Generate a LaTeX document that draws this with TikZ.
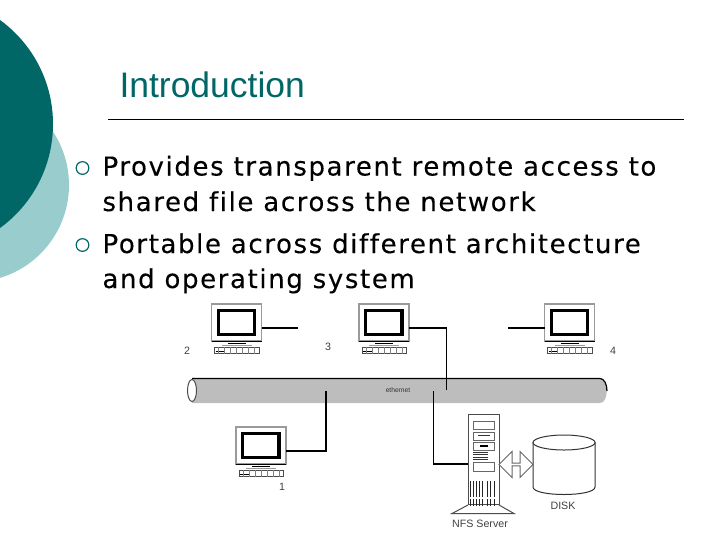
\documentclass[tikz,border=0pt]{standalone}
\usepackage{fontspec}
\setmainfont{DejaVu Sans}
\newfontfamily\bodyfont[LetterSpace=6.2,FakeBold=0.25,Ligatures=NoCommon]{DejaVu Sans}
\newfontfamily\labelfont{Liberation Sans}
\usetikzlibrary{shapes.arrows}

\definecolor{tealdark}{HTML}{006666}
\definecolor{teallight}{HTML}{99CCCC}
\definecolor{cablegray}{HTML}{BDBDBD}
\definecolor{framegray}{HTML}{9A9A9A}

\tikzset{every picture/.style={line width=0.75pt}}
\tikzset{
	wire/.style={line width=1pt,black},
	bodytext/.style={anchor=base west,inner sep=0pt,font=\bodyfont\fontsize{19.5}{24}\selectfont},
	smalltext/.style={inner sep=0pt,text=black!75,font=\labelfont\fontsize{8}{10}\selectfont},
	ringmark/.style={circle,draw=tealdark,line width=0.9pt,minimum size=9.5pt,inner sep=0pt},
	monitorbox/.style={rectangle,draw=framegray,line width=1pt,fill=white,minimum width=37.5pt,minimum height=27.75pt,inner sep=0pt},
	computer/.pic={
		\node [monitorbox] (-frame) at (25,18.5) {};
		\coordinate (-porta) at (50,24);
		\coordinate (-portb) at (0,24);
		\draw [line width=2.5pt,black] (6.8,6.6) rectangle (42.9,30.4);
		\draw [black,line width=1pt] (0,37.5) -- (50,37.5);
		\draw [framegray] (10,41) -- (40,41);
		\draw [black] (16,39.5) -- (34,39.5);
		\draw [fill=white,draw=black!70] (3,43) rectangle (47.5,49.5);
		\draw [black,line width=1.4pt] (4,47.5) -- (13,47.5);
		\foreach \k in {7,13,...,46} {\draw [black!50] (\k,43) -- (\k,49.5);}
	}
}

\begin{document}
\begin{tikzpicture}[x=0.75pt,y=0.75pt,yscale=-1,xscale=1,every pic/.style={yscale=-1}]
	\useasboundingbox (0,0) rectangle (720,540);
	\clip (0,0) rectangle (720,540);

	% Background circles
	\fill [teallight] (-28,185) circle [radius=97];
	\fill [tealdark] (-75.5,124) circle [radius=128.5];

	% Title
	\node (title) [anchor=base west,inner sep=0pt,text=tealdark,font=\labelfont\fontsize{26.6}{30}\selectfont] at (119,97.5) {Introduction};
	\draw [line width=1.2pt] (108,119.5) -- (684,119.5);

	% Bullets
	\node (ringa) [ringmark] at (82.5,168) {};
	\node (ringb) [ringmark] at (82.5,245) {};
	\node (linea) [bodytext] at (102,175.5) {Provides transparent remote access to};
	\node (lineb) [bodytext] at (102,211) {shared file across the network};
	\node (linec) [bodytext] at (102,253) {Portable across different architecture};
	\node (lined) [bodytext] at (102,288) {and operating system};

	% Ethernet cable
	\path [fill=cablegray] (192,378.5) -- (600,378.5) .. controls (609,378.5) and (609,403) .. (600,403) -- (192,403) -- cycle;
	\draw [line width=0.9pt] (192,378.5) -- (600,378.5) .. controls (604,378.5) and (607,384) .. (607,391);
	\draw [fill=white,draw=black!70] (192,390.5) ellipse [x radius=4.5,y radius=11];
	\node (cable) [inner sep=0pt,text=black!80,font=\labelfont\fontsize{5}{6}\selectfont] at (398,390) {ethernet};

	% Computers
	\pic (pctwo) at (211.5,304) {computer};
	\pic (pcthree) at (359,304) {computer};
	\pic (pcfour) at (544.5,304) {computer};
	\pic (pcone) at (236,427) {computer};

	% Free ends and corners
	\coordinate (endtwo) at (298,328);
	\coordinate (endfour) at (508,328);
	\coordinate (cornerthree) at (446.5,328);
	\coordinate (tapthree) at (446.5,390);
	\coordinate (cornerone) at (326,451);
	\coordinate (tapone) at (326,391);
	\coordinate (tapserver) at (433.5,391);
	\coordinate (cornerserver) at (433.5,464);

	% Server
	\node (server) [rectangle,draw=black!70,fill=white,minimum width=23.25pt,minimum height=68pt,inner sep=0pt] at (483.5,459.5) {};
	\foreach \y/\h in {421/8,432/8,442/8,462/9} {\draw [black!60] (473,\y) rectangle (494,\y+\h);}
	\draw [line width=1.4pt] (480,446) -- (488,446);
	\draw [black!80] (478,435.5) -- (490,435.5);
	\foreach \y in {452,454.5,457,459.5} {\draw [black!80] (473,\y) -- (488,\y);}
	\foreach \x in {470,473,476,479,482,487,490,494} {\draw [black!85] (\x,481) -- (\x,497) (\x,499) -- (\x,506);}
	\draw [black!70] (468,505) -- (452,513.5) -- (514,513.5) -- (499,505);
	\node (servertext) [smalltext] at (480,524) {NFS Server};

	% Disk
	\draw [fill=white,draw=black!80] (533,442) -- (533,487) .. controls (533,497) and (595,497) .. (595,487) -- (595,442);
	\draw [fill=white,draw=black!80] (564,442.5) ellipse [x radius=31,y radius=7.5];
	\node (disktext) [smalltext] at (563,505.5) {DISK};
	\node (link) [double arrow,draw=black!60,fill=white,minimum width=19.5pt,minimum height=25.5pt,double arrow head extend=3pt,inner sep=0pt] at (516,464.5) {};

	% Connectors
	\draw [wire] (pctwo-porta) -- (endtwo);
	\draw [wire] (pcthree-porta) -- (cornerthree) -- (tapthree);
	\draw [wire] (endfour) -- (pcfour-portb);
	\draw [wire] (pcone-porta) -- (cornerone) -- (tapone);
	\draw [wire] (tapserver) -- (cornerserver) -- (server.west |- cornerserver);

	% Text Node
	\node (numone) [smalltext] at (282,487) {1};
	% Text Node
	\node (numtwo) [smalltext] at (187,350.5) {2};
	% Text Node
	\node (numthree) [smalltext] at (328,347) {3};
	% Text Node
	\node (numfour) [smalltext] at (613,350.5) {4};
\end{tikzpicture}
\end{document}
